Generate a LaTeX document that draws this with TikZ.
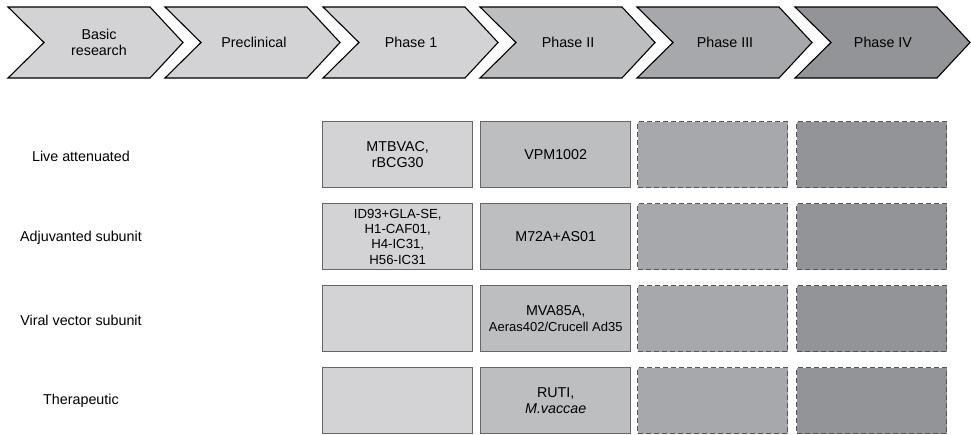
\documentclass[tikz,border=0pt]{standalone}
\usepackage{fontspec}
\setmainfont{Liberation Sans}
\definecolor{gA}{HTML}{D3D3D5}
\definecolor{gB}{HTML}{BDBEC0}
\definecolor{gC}{HTML}{A7A8AB}
\definecolor{gD}{HTML}{939497}
\definecolor{edgeS}{HTML}{666666}
\definecolor{edgeD}{HTML}{555555}
\begin{document}
\begin{tikzpicture}[x=1pt,y=-1pt,
  chev/.style={draw=black,line width=1.1pt,line join=miter},
  lbl/.style={font=\fontsize{14.3}{16}\selectfont,align=center,inner sep=0pt},
  cell/.style={draw=edgeS,line width=1.4pt,minimum width=150pt,minimum height=66pt,inner sep=0pt,align=center,font=\fontsize{14.3}{16}\selectfont,anchor=north west},
  dcell/.style={draw=edgeD,line width=1.4pt,dash pattern=on 5pt off 3pt,minimum width=150pt,minimum height=66pt,inner sep=0pt,anchor=north west}]
\useasboundingbox (0,0) rectangle (971,434);
% chevrons
\foreach \s/\c in {8/gA,165/gA,323/gA,480/gB,637/gC,795/gD}{
  \draw[chev,fill=\c] (\s,7) -- (\s+142,7) -- (\s+175,42.5) -- (\s+142,78) -- (\s,78) -- (\s+36,42.5) -- cycle;
}
\node[lbl] (basic) at (99,42.5) {Basic\\research};
\node[lbl] (precl) at (254,42.5) {Preclinical};
\node[lbl] (ph1) at (411,42.5) {Phase 1};
\node[lbl] (ph2) at (568,42.5) {Phase II};
\node[lbl] (ph3) at (725,42.5) {Phase III};
\node[lbl] (ph4) at (883,42.5) {Phase IV};
% row labels
\node[lbl] (r1) at (81,156) {Live attenuated};
\node[lbl] (r2) at (81,238) {Adjuvanted subunit};
\node[lbl] (r3) at (81,320) {Viral vector subunit};
\node[lbl] (r4) at (81,401) {Therapeutic};
% cells
\foreach \y/\n in {121/1,203/2,285/3,367/4}{
  \node[dcell,fill=gC] (c3\n) at (637,\y) {};
  \node[dcell,fill=gD] (c4\n) at (796,\y) {};
}
\node[cell,fill=gA] (c11) at (322,121) {MTBVAC,\\rBCG30};
\node[cell,fill=gB] (c21) at (480,121) {VPM1002};
\node[cell,fill=gA,font=\fontsize{13.2}{15.3}\selectfont] (c12) at (322,203) {ID93+GLA-SE,\\H1-CAF01,\\H4-IC31,\\H56-IC31};
\node[cell,fill=gB] (c22) at (480,203) {M72A+AS01};
\node[cell,fill=gA] (c13) at (322,285) {};
\node[cell,fill=gB] (c23) at (480,285) {MVA85A,\\{\fontsize{13}{16}\selectfont Aeras402/Crucell Ad35}};
\node[cell,fill=gA] (c14) at (322,367) {};
\node[cell,fill=gB] (c24) at (480,367) {RUTI,\\\textit{M.vaccae}};
\end{tikzpicture}
\end{document}
